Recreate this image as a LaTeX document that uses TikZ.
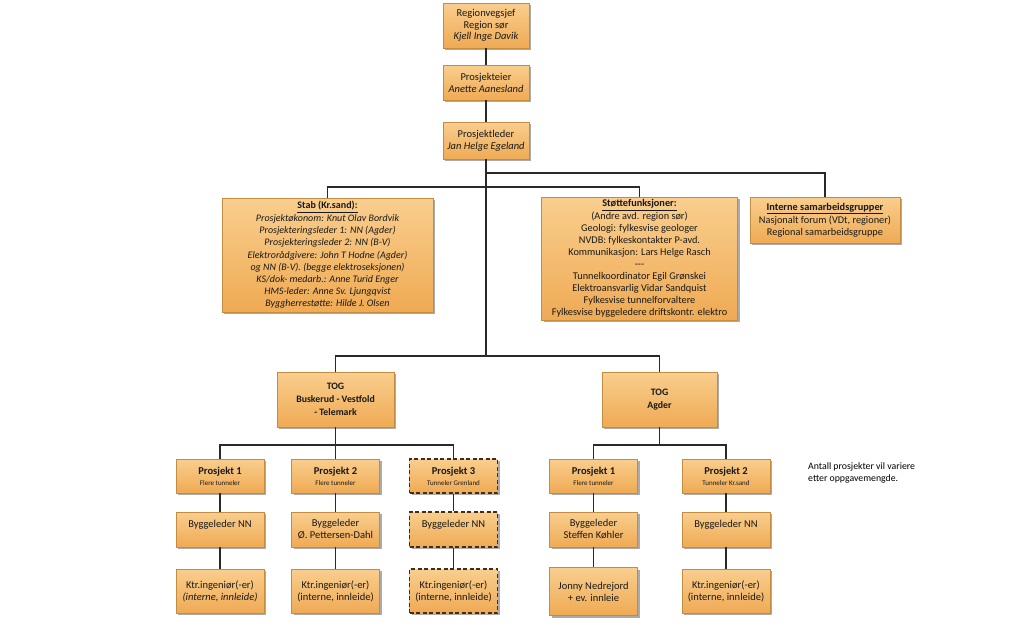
\documentclass[tikz,border=0pt]{standalone}
\usepackage{fontspec}
\setmainfont{Carlito}
\usetikzlibrary{shadows,calc}
\definecolor{boxtop}{RGB}{249,206,142}
\definecolor{boxbot}{RGB}{239,170,84}
\definecolor{boxline}{RGB}{196,140,66}
\definecolor{linecol}{RGB}{45,40,38}

\begin{document}
\begin{tikzpicture}[x=1pt,y=-1pt,
  box/.style={draw=boxline, line width=0.5pt, top color=boxtop, bottom color=boxbot,
    drop shadow={shadow xshift=2pt, shadow yshift=-2pt, opacity=0.55, fill=black!60},
    align=center, inner sep=1pt, text=black!90, font=\fontsize{10.5}{12}\selectfont},
  dbox/.style={box, draw=black!65!brown, line width=1.1pt, dash pattern=on 4pt off 2.5pt},
  sz/.style 2 args={minimum width=#1, minimum height=#2},
  conn/.style={draw=linecol, line width=1.1pt}]
\useasboundingbox (0,0) rectangle (1024,633);

%% ledelse
\node[box, sz={86}{45}, font=\fontsize{10.5}{11.5}\selectfont] (rvs) at (486,25.5) {Regionvegsjef\\Region sør\\\textit{Kjell Inge Davik}};
\node[box, sz={86}{35}] (peier) at (486,82.5) {Prosjekteier\\\textit{Anette Aanesland}};
\node[box, sz={86}{37}] (pleder) at (486,140.5) {Prosjektleder\\\textit{Jan Helge Egeland}};

%% stab og stotte
\node[box, sz={211}{114}, font=\fontsize{10}{12.2}\selectfont\itshape] (stab) at (327.5,255)
  {\underline{\upshape\bfseries Stab (Kr.sand):}\\[0.5pt]
   Prosjektøkonom: Knut Olav Bordvik\\
   Prosjekteringsleder 1: NN (Agder)\\
   Prosjekteringsleder 2: NN (B-V)\\
   Elektrorådgivere: John T Hodne (Agder)\\
   og NN (B-V). (begge elektroseksjonen)\\
   KS/dok- medarb.: Anne Turid Enger\\
   HMS-leder: Anne Sv. Ljungqvist\\
   Byggherrestøtte: Hilde J. Olsen};
\node[box, sz={196}{123}, font=\fontsize{10.3}{12}\selectfont] (stotte) at (639.5,258.5)
  {\underline{\bfseries Støttefunksjoner:}\\[1pt]
   (Andre avd. region sør)\\
   Geologi: fylkesvise geologer\\
   NVDB: fylkeskontakter P-avd.\\
   Kommunikasjon: Lars Helge Rasch\\
   {-}{-}{-}\\
   Tunnelkoordinator Egil Grønskei\\
   Elektroansvarlig Vidar Sandquist\\
   Fylkesvise tunnelforvaltere\\
   Fylkesvise byggeledere driftskontr. elektro};
\node[box, sz={150}{46}, font=\fontsize{10.3}{11.8}\selectfont] (interne) at (825,220)
  {\underline{\bfseries Interne samarbeidsgrupper}\\[1.5pt]
   Nasjonalt forum (VDt, regioner)\\
   Regional samarbeidsgruppe};

%% TOG
\node[box, sz={117}{55}, font=\fontsize{9.8}{13}\selectfont\bfseries] (tog1) at (335.5,399.5) {TOG\\Buskerud - Vestfold\\- Telemark};
\node[box, sz={115}{55}, font=\fontsize{9.8}{13}\selectfont\bfseries] (tog2) at (659.5,399.5) {TOG\\Agder};

%% prosjekter
\node[box, sz={88}{34}] (p1) at (220,476) {{\fontsize{10.5}{12}\selectfont\bfseries Prosjekt 1}\\[-1pt]{\fontsize{7}{8}\selectfont Flere tunneler}};
\node[box, sz={88}{34}] (p2) at (335.5,476) {{\fontsize{10.5}{12}\selectfont\bfseries Prosjekt 2}\\[-1pt]{\fontsize{7}{8}\selectfont Flere tunneler}};
\node[dbox, sz={88}{34}] (p3) at (453.5,476) {{\fontsize{10.5}{12}\selectfont\bfseries Prosjekt 3}\\[-1pt]{\fontsize{7}{8}\selectfont Tunneler Grenland}};
\node[box, sz={88}{34}] (q1) at (593.5,476) {{\fontsize{10.5}{12}\selectfont\bfseries Prosjekt 1}\\[-1pt]{\fontsize{7}{8}\selectfont Flere tunneler}};
\node[box, sz={88}{34}] (q2) at (726,476) {{\fontsize{10.5}{12}\selectfont\bfseries Prosjekt 2}\\[-1pt]{\fontsize{7}{8}\selectfont Tunneler Kr.sand}};

%% byggeledere
\node[box, sz={88}{35}] (bp1) at (220,529.5) {Byggeleder NN\\\mbox{}};
\node[box, sz={88}{35}] (bp2) at (335.5,529.5) {Byggeleder\\Ø. Pettersen-Dahl};
\node[dbox, sz={88}{35}] (bp3) at (453.5,529.5) {Byggeleder NN\\\mbox{}};
\node[box, sz={88}{35}] (bq1) at (593.5,529.5) {Byggeleder\\Steffen Køhler};
\node[box, sz={88}{35}] (bq2) at (726,529.5) {Byggeleder NN\\\mbox{}};

%% kontrollingeniorer
\node[box, sz={88}{44}] (kp1) at (220,591) {Ktr.ingeniør(-er)\\\textit{(interne, innleide)}};
\node[box, sz={88}{44}] (kp2) at (335.5,591) {Ktr.ingeniør(-er)\\(interne, innleide)};
\node[dbox, sz={88}{44}] (kp3) at (453.5,591) {Ktr.ingeniør(-er)\\(interne, innleide)};
\node[box, sz={88}{48}] (kq1) at (593.5,591.5) {Jonny Nedrejord\\+ ev. innleie};
\node[box, sz={88}{44}] (kq2) at (726,591) {Ktr.ingeniør(-er)\\(interne, innleide)};

\node[anchor=north west, align=left, inner sep=0pt, font=\fontsize{9.8}{12.5}\selectfont] (note) at (808,462)
  {Antall prosjekter vil variere\\etter oppgavemengde.};

%% linjer
\coordinate (j1) at (486,173);
\coordinate (j2) at (486,187);
\coordinate (j3) at (486,356);
\coordinate (t1) at (335.5,445);
\coordinate (t2) at (659.5,445);

\draw[conn] (rvs) -- (peier);
\draw[conn] (peier) -- (pleder);
\draw[conn] (pleder.south) -- (j3);
\draw[conn] (j1) -| (interne.north);
\draw[conn] (stab.north) |- (j2) -| (stotte.north);
\draw[conn] (tog1.north) |- (j3) -| (tog2.north);
\draw[conn] (tog1.south) -- (p2.north);
\draw[conn] (p1.north) |- (t1) -| (p3.north);
\draw[conn] (tog2.south) -- (t2);
\draw[conn] (q1.north) |- (t2) -| (q2.north);
\foreach \c in {p1,p2,p3,q1,q2}{
  \draw[conn] (\c.south) -- (b\c.north);
  \draw[conn] (b\c.south) -- (k\c.north);
}
\end{tikzpicture}
\end{document}
